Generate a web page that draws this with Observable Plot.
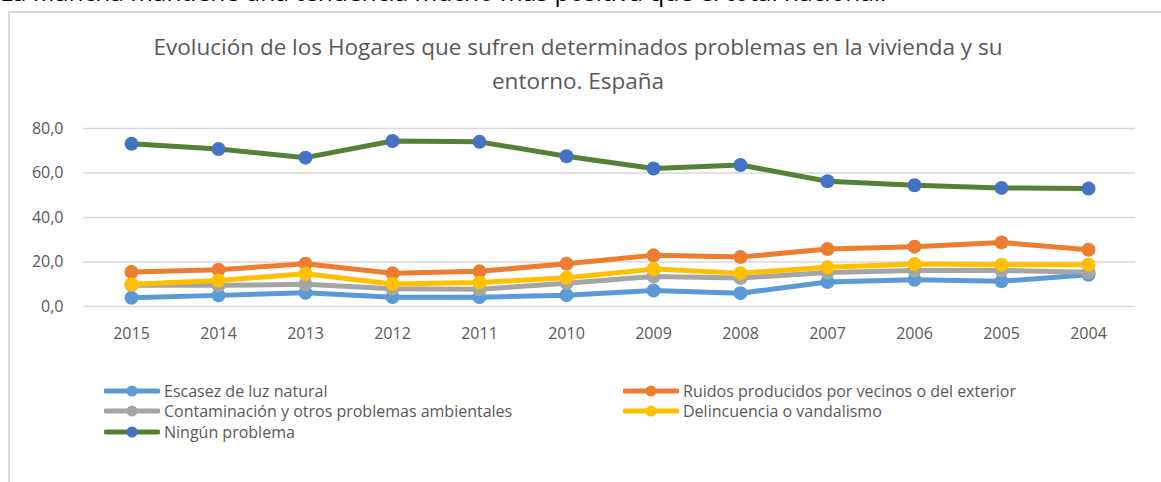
<!DOCTYPE html>
<html><head><meta charset="utf-8">
<script src="https://cdn.jsdelivr.net/npm/d3@7"></script>
<script src="https://cdn.jsdelivr.net/npm/@observablehq/plot@0.6"></script>
<style>
body{margin:0;background:#fff;}
#wrap{position:relative;width:1161px;height:482px;overflow:hidden;font-family:"Open Sans",sans-serif;}
#lead{position:absolute;left:0;top:-24px;font-size:24.5px;line-height:32px;color:#000;white-space:nowrap;}
#box{position:absolute;left:8px;top:11px;width:1200px;height:520px;border-left:2px solid #d9d9d9;border-top:2px solid #d9d9d9;}
#title{position:absolute;left:78px;width:1000px;top:30px;text-align:center;font-size:22.5px;line-height:34px;color:#595959;}
#chart{position:absolute;left:0;top:0;}
.leg{position:absolute;font-size:16px;line-height:20px;color:#595959;display:flex;align-items:center;white-space:nowrap;}
.leg svg{margin-right:4px;}
</style></head><body>
<div id="wrap">
  <div id="lead">La Mancha mantiene una tendencia mucho más positiva que el total nacional.</div>
  <div id="box"></div>
  <div id="title">Evolución de los Hogares que sufren determinados problemas en la vivienda y su<br>entorno. España</div>
  <div id="chart"></div>
  <div id="legend"></div>
</div>
<script>
const years = ["2015","2014","2013","2012","2011","2010","2009","2008","2007","2006","2005","2004"];
const escasez = [3.9,5.0,6.2,4.2,4.2,5.1,7.2,6.0,11.0,12.0,11.3,14.3];
const ruidos = [15.5,16.5,19.2,14.9,15.8,19.2,23.0,22.2,25.8,26.9,28.8,25.5];
const contaminacion = [9.6,9.5,10.0,8.0,7.7,10.5,13.5,12.8,15.3,16.2,16.2,15.4];
const delincuencia = [10.0,11.7,14.7,10.1,10.8,12.9,16.8,15.0,17.6,19.1,18.8,18.8];
const ninguno = [73.1,70.8,66.9,74.4,74.0,67.5,62.0,63.6,56.3,54.5,53.3,53.0];
const yTicks = [0,20,40,60,80];

const series = [
  {name:"Escasez de luz natural", values:escasez, line:"#5B9BD5", dot:"#5B9BD5"},
  {name:"Ruidos producidos por vecinos o del exterior", values:ruidos, line:"#ED7D31", dot:"#ED7D31"},
  {name:"Contaminación y otros problemas ambientales", values:contaminacion, line:"#A5A5A5", dot:"#A5A5A5"},
  {name:"Delincuencia o vandalismo", values:delincuencia, line:"#FFC000", dot:"#FFC000"},
  {name:"Ningún problema", values:ninguno, line:"#548235", dot:"#4472C4"}
];

const marks = [
  Plot.gridY(yTicks, {stroke:"#d9d9d9", strokeOpacity:1, strokeWidth:1.5}),
  Plot.axisX({tickSize:0, tickPadding:21, fontSize:16}),
  Plot.axisY(yTicks, {tickSize:0, tickPadding:20, fontSize:16, tickFormat:d => d.toFixed(1).replace(".", ",")})
];
for (const s of series) {
  const data = years.map((yr,i) => ({year:yr, value:s.values[i]}));
  marks.push(Plot.line(data, {x:"year", y:"value", stroke:s.line, strokeWidth:5, strokeLinejoin:"round", strokeLinecap:"round"}));
  marks.push(Plot.dot(data, {x:"year", y:"value", r:7, fill:s.dot, stroke:null}));
}

const chart = Plot.plot({
  width:1161, height:350,
  marginTop:128, marginBottom:44, marginLeft:83, marginRight:26,
  x:{type:"point", domain:years, padding:0.5, label:null},
  y:{domain:[0,80], label:null},
  style:{fontSize:"16px", fontFamily:"'Open Sans', sans-serif", color:"#595959", background:"transparent", overflow:"visible"},
  marks
});
document.getElementById("chart").appendChild(chart);

const legPos = [[104,391],[623,391],[104,411],[623,411],[104,432]];
const legend = document.getElementById("legend");
series.forEach((s,i) => {
  const [x,y] = legPos[i];
  const div = document.createElement("div");
  div.className = "leg";
  div.style.left = x + "px";
  div.style.top = (y - 10) + "px";
  div.innerHTML = `<svg width="56" height="14"><line x1="2" y1="7" x2="54" y2="7" stroke="${s.line}" stroke-width="5" stroke-linecap="round"/><circle cx="28" cy="7" r="5.5" fill="${s.dot}"/></svg><span>${s.name}</span>`;
  legend.appendChild(div);
});
</script>
</body></html>
